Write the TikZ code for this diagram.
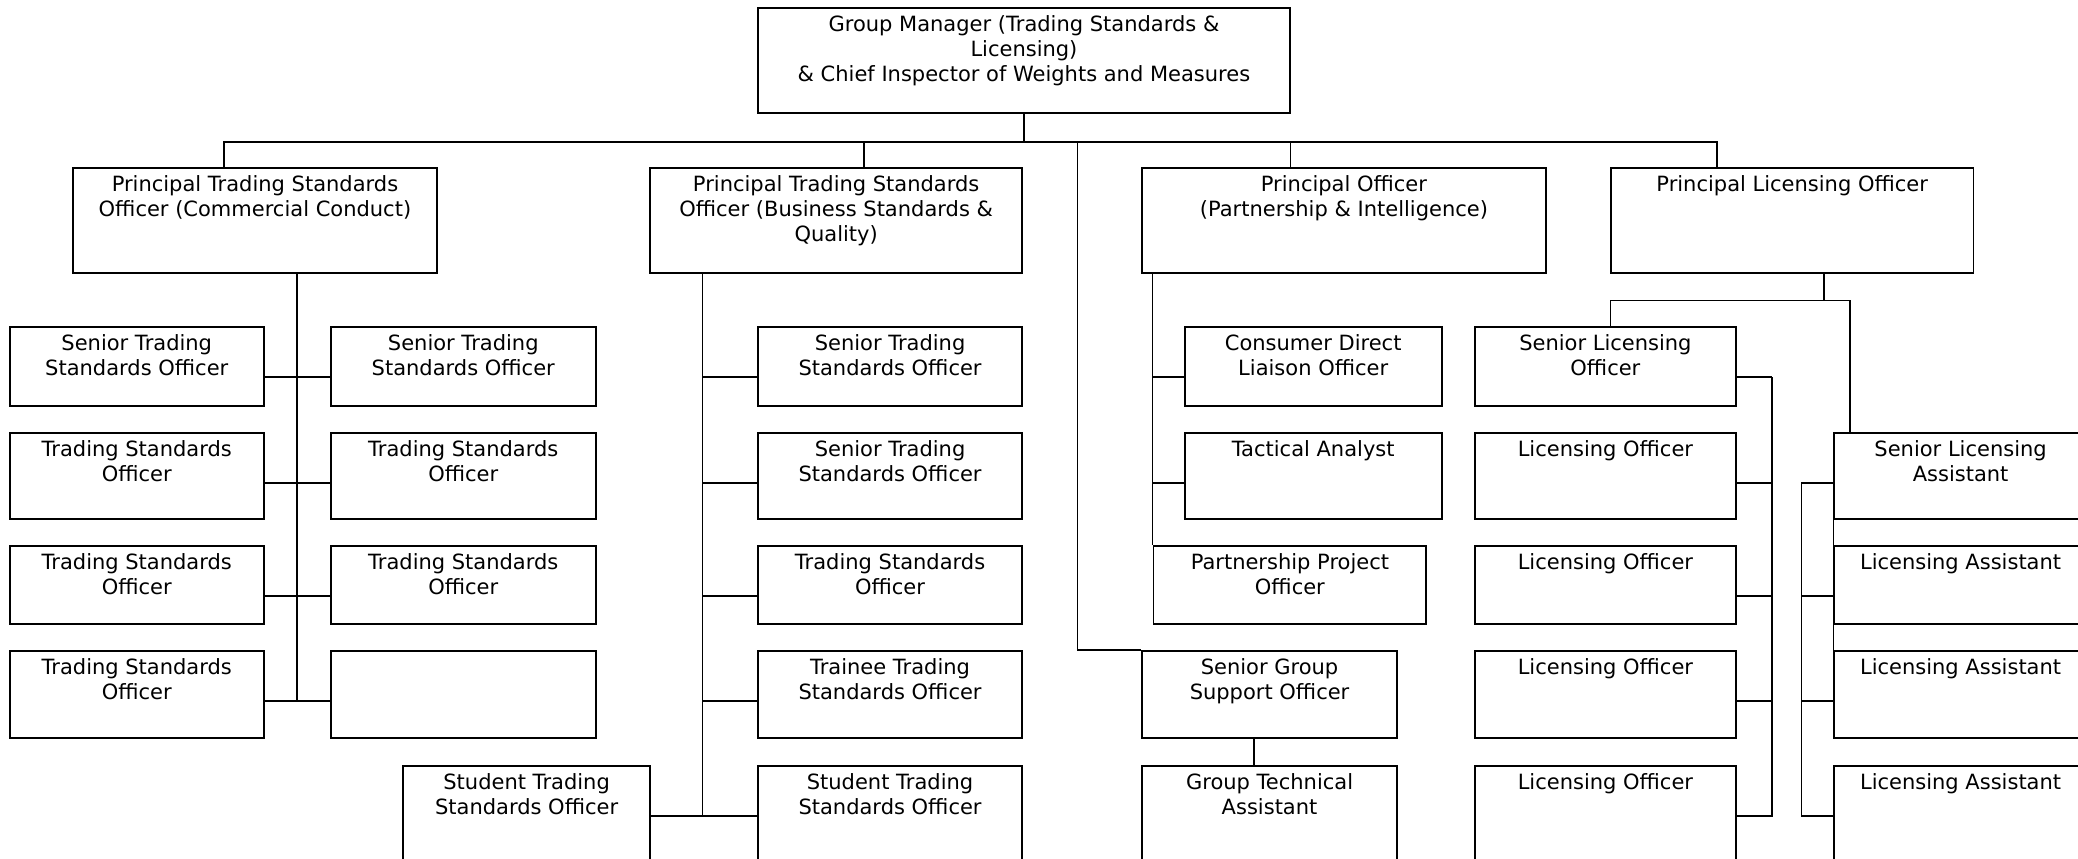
\documentclass[tikz,border=0pt]{standalone}
\usepackage{fontspec}
\setmainfont{DejaVu Sans}

\begin{document}
\begin{tikzpicture}[
        x=0.5pt, y=-0.5pt,
        line width=0.8pt,
        post/.style={draw, line width=0.95pt, anchor=north west, inner sep=0pt},
        title/.style={anchor=north, align=center, inner sep=0pt, yshift=-3.65pt,
            font=\fontsize{10.5}{12.5}\selectfont},
        row1/.style={minimum height=39.5pt},
        row2/.style={minimum height=43pt},
        row3/.style={minimum height=39pt},
        row4/.style={minimum height=43.5pt},
        row5/.style={minimum height=50pt},
        tap/.style={yshift=-25.35pt},
    ]
    \useasboundingbox (0,0) rectangle (2078,858);
    \clip (0,0) rectangle (2078,858);

    \node[post, minimum width=266pt, minimum height=52.5pt,
        label={[title]north:Group Manager (Trading Standards \&\\Licensing)\\\& Chief Inspector of Weights and Measures}] (gm) at (757,7) {};

    \node[post, minimum width=182pt, minimum height=52.5pt,
        label={[title]north:Principal Trading Standards\\Officer (Commercial Conduct)}] (ptsocc) at (72,167) {};
    \node[post, minimum width=186.2pt, minimum height=52.5pt,
        label={[title]north:Principal Trading Standards\\Officer (Business Standards \&\\Quality)}] (ptsobsq) at (649,167) {};
    \node[post, minimum width=202pt, minimum height=52.5pt,
        label={[title]north:Principal Officer\\(Partnership \& Intelligence)}] (po) at (1141,167) {};
    \node[post, minimum width=181.25pt, minimum height=52.5pt,
        label={[title]north:Principal Licensing Officer}] (plo) at (1610,167) {};

    \node[post, row1, minimum width=126.8pt, label={[title]north:Senior Trading\\Standards Officer}] (ccl1) at (9,326) {};
    \node[post, row2, minimum width=126.8pt, label={[title]north:Trading Standards\\Officer}] (ccl2) at (9,432) {};
    \node[post, row3, minimum width=126.8pt, label={[title]north:Trading Standards\\Officer}] (ccl3) at (9,545) {};
    \node[post, row4, minimum width=126.8pt, label={[title]north:Trading Standards\\Officer}] (ccl4) at (9,650) {};

    \node[post, row1, minimum width=132.7pt, label={[title]north:Senior Trading\\Standards Officer}] (ccr1) at (329.6,326) {};
    \node[post, row2, minimum width=132.7pt, label={[title]north:Trading Standards\\Officer}] (ccr2) at (329.6,432) {};
    \node[post, row3, minimum width=132.7pt, label={[title]north:Trading Standards\\Officer}] (ccr3) at (329.6,545) {};
    \node[post, row4, minimum width=132.7pt] (ccr4) at (329.6,650) {};

    \node[post, row5, minimum width=123.65pt, label={[title]north:Student Trading\\Standards Officer}] (stu) at (402,765) {};

    \node[post, row1, minimum width=132.3pt, label={[title]north:Senior Trading\\Standards Officer}] (bsq1) at (756.8,326) {};
    \node[post, row2, minimum width=132.3pt, label={[title]north:Senior Trading\\Standards Officer}] (bsq2) at (756.8,432) {};
    \node[post, row3, minimum width=132.3pt, label={[title]north:Trading Standards\\Officer}] (bsq3) at (756.8,545) {};
    \node[post, row4, minimum width=132.3pt, label={[title]north:Trainee Trading\\Standards Officer}] (bsq4) at (756.8,650) {};
    \node[post, row5, minimum width=132.3pt, label={[title]north:Student Trading\\Standards Officer}] (bsq5) at (756.8,765) {};

    \node[post, row1, minimum width=128.35pt, label={[title]north:Consumer Direct\\Liaison Officer}] (cdlo) at (1183.9,326) {};
    \node[post, row2, minimum width=128.35pt, label={[title]north:Tactical Analyst}] (ta) at (1183.9,432) {};
    \node[post, row3, minimum width=136.45pt, label={[title]north:Partnership Project\\Officer}] (ppo) at (1152.5,545) {};
    \node[post, row4, minimum width=127.6pt, label={[title]north:Senior Group\\Support Officer}] (sgso) at (1141,650) {};
    \node[post, row5, minimum width=127.6pt, label={[title]north:Group Technical\\Assistant}] (gta) at (1141,765) {};

    \node[post, row1, minimum width=130.65pt, label={[title]north:Senior Licensing\\Officer}] (slo) at (1473.8,326) {};
    \node[post, row2, minimum width=130.65pt, label={[title]north:Licensing Officer}] (lo1) at (1473.8,432) {};
    \node[post, row3, minimum width=130.65pt, label={[title]north:Licensing Officer}] (lo2) at (1473.8,545) {};
    \node[post, row4, minimum width=130.65pt, label={[title]north:Licensing Officer}] (lo3) at (1473.8,650) {};
    \node[post, row5, minimum width=130.65pt, label={[title]north:Licensing Officer}] (lo4) at (1473.8,765) {};

    \node[post, row2, minimum width=126.35pt, label={[title]north:Senior Licensing\\Assistant}] (sla) at (1833.3,432) {};
    \node[post, row3, minimum width=126.35pt, label={[title]north:Licensing Assistant}] (la1) at (1833.3,545) {};
    \node[post, row4, minimum width=126.35pt, label={[title]north:Licensing Assistant}] (la2) at (1833.3,650) {};
    \node[post, row5, minimum width=126.35pt, label={[title]north:Licensing Assistant}] (la3) at (1833.3,765) {};

    \draw (gm.south) -- ++(0,-14pt) coordinate (hub);
    \draw ([xshift=-15.5pt]ptsocc.north) |- (hub);
    \draw ([xshift=13.85pt]ptsobsq.north) |- (hub);
    \draw ([xshift=-26.8pt]po.north) |- (hub);
    \draw ([xshift=-37.6pt]plo.north) |- (hub);
    \draw (sgso.north west) -| ([xshift=26.75pt]hub);

    \draw ([xshift=21pt]ptsocc.south) |- ([tap]ccl4.north east);
    \draw ([tap]ccl1.north east) -- ([tap]ccr1.north west);
    \draw ([tap]ccl2.north east) -- ([tap]ccr2.north west);
    \draw ([tap]ccl3.north east) -- ([tap]ccr3.north west);
    \draw ([tap]ccl4.north east) -- ([tap]ccr4.north west);

    \draw ([tap]bsq1.north west) -| ([xshift=26.7pt]ptsobsq.south west);
    \draw ([tap]bsq2.north west) -| ([xshift=26.7pt]ptsobsq.south west);
    \draw ([tap]bsq3.north west) -| ([xshift=26.7pt]ptsobsq.south west);
    \draw ([tap]bsq4.north west) -| ([xshift=26.7pt]ptsobsq.south west);
    \draw ([tap]bsq5.north west) -| ([xshift=26.7pt]ptsobsq.south west);
    \draw ([tap]stu.north east) -- ([tap]bsq5.north west);

    \draw (ppo.north west |- po.south) -- (ppo.north west);
    \draw ([tap]cdlo.north west) -| (ppo.north west);
    \draw ([tap]ta.north west) -| (ppo.north west);
    \draw ([xshift=-7.8pt]sgso.south) -- ([xshift=-7.8pt]gta.north);

    \draw ([xshift=16pt]plo.south) -- ++(0,-13.35pt) coordinate (lic);
    \draw ([xshift=2.6pt]slo.north) |- (lic);
    \draw ([xshift=8.25pt]sla.north west) |- (lic);

    \draw ([tap]slo.north east) -- ++(17.5pt,0) coordinate (lobus);
    \draw ([tap]lo1.north east) -| (lobus);
    \draw ([tap]lo2.north east) -| (lobus);
    \draw ([tap]lo3.north east) -| (lobus);
    \draw ([tap]lo4.north east) -| (lobus);

    \draw ([tap]sla.north west) -- ++(-16pt,0) coordinate (labus);
    \draw ([tap]la1.north west) -| (labus);
    \draw ([tap]la2.north west) -| (labus);
    \draw ([tap]la3.north west) -| (labus);
    \draw (sla.south west) -- (la1.north west);
    \draw (la1.south west) -- (la2.north west);
\end{tikzpicture}
\end{document}
